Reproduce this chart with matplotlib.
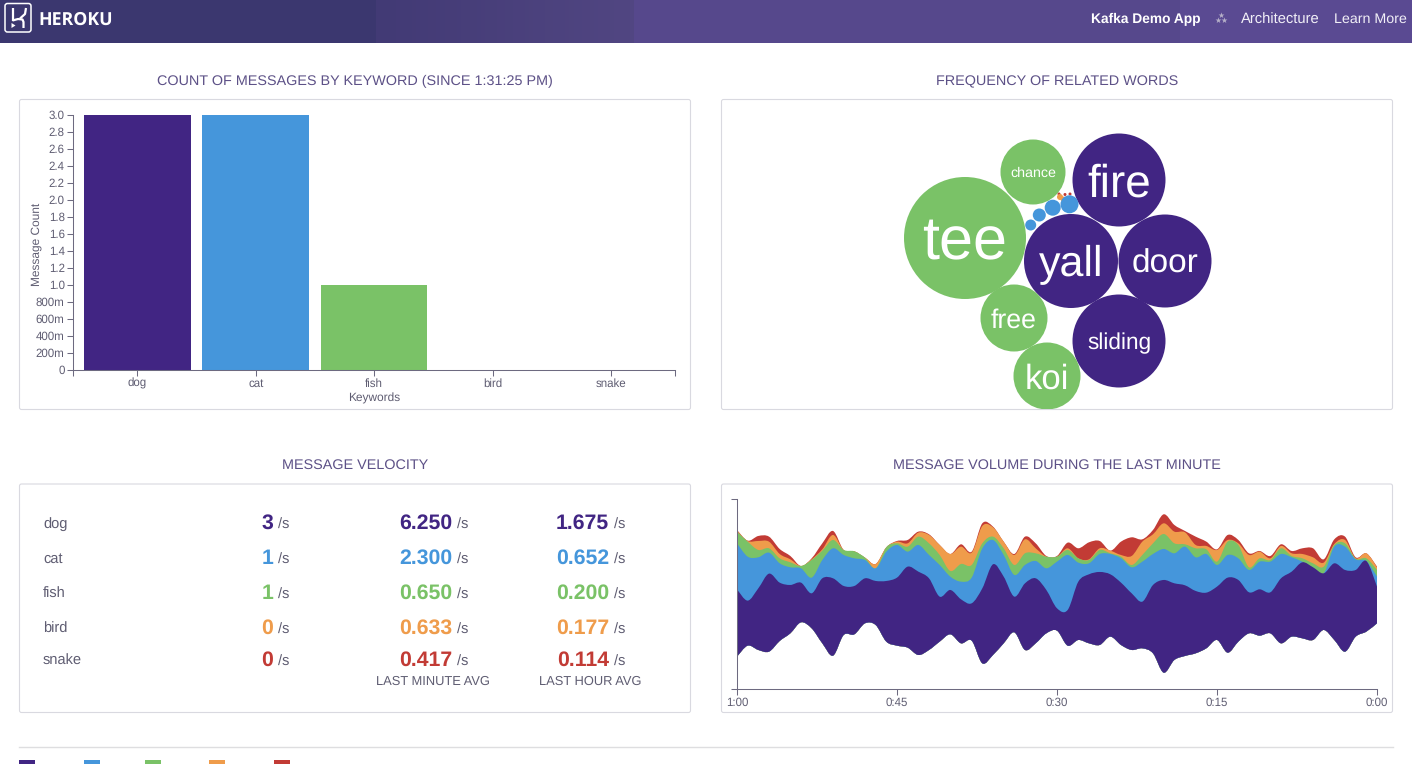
import numpy as np
import matplotlib
matplotlib.use('Agg')
import matplotlib.pyplot as plt
from matplotlib.patches import Circle, FancyBboxPatch, PathPatch, Rectangle
from matplotlib.path import Path

plt.rcParams['font.family'] = ['Liberation Sans', 'DejaVu Sans']
plt.rcParams['text.hinting'] = 'no_hinting'

# Colours per keyword
keywords = ['dog', 'cat', 'fish', 'bird', 'snake']
colors = ['#412583', '#4596db', '#7ac267', '#ef9c4b', '#c23b35']

# Bar chart
message_counts = [3, 3, 1, 0, 0]
bar_ticks = [0, 0.2, 0.4, 0.6, 0.8, 1.0, 1.2, 1.4, 1.6, 1.8, 2.0, 2.2, 2.4, 2.6, 2.8, 3.0]
bar_tick_labels = ['0', '200m', '400m', '600m', '800m', '1.0', '1.2', '1.4', '1.6', '1.8',
                   '2.0', '2.2', '2.4', '2.6', '2.8', '3.0']

# Bubble chart
bubble_words = ['tee', 'chance', 'fire', 'yall', 'door', 'free', 'sliding', 'koi']
bubble_radius = [61, 32.5, 46.5, 47, 46.5, 33.5, 46.5, 33.5]
bubble_group = [2, 2, 0, 0, 0, 2, 0, 2]
bubble_x = [965, 1033, 1119, 1071, 1165, 1014, 1119, 1047]
bubble_y = [238, 172, 180, 261, 261, 318, 341, 376]
bubble_font = [44, 10.3, 33, 31, 24, 19.2, 16.3, 25]
small_radius = [9, 8, 6.5, 5.5, 3, 2.5, 1.5, 1.5, 1.5]
small_group = [1, 1, 1, 1, 3, 3, 4, 4, 4]
small_x = [1069.5, 1052.7, 1039.3, 1030.7, 1060, 1063, 1059, 1065, 1070]
small_y = [204.3, 207.7, 215, 225, 197, 199, 194, 194.5, 194]

# Velocity table
current_rate = ['3', '1', '1', '0', '0']
minute_avg = ['6.250', '2.300', '0.650', '0.633', '0.417']
hour_avg = ['1.675', '0.652', '0.200', '0.177', '0.114']

# Streamgraph boundaries, one reading per second, y counted down from the top of the plot
seconds_ago = np.arange(60, -1, -1)
stream_bottom = [530, 497, 510, 515, 483, 460, 427, 445, 490, 527, 465, 463, 430, 435, 485, 497, 503, 525, 510, 485,
                 463, 490, 482, 550, 525, 490, 457, 510, 490, 460, 452, 497, 480, 490, 495, 470, 495, 510, 505, 520,
                 578, 540, 528, 520, 505, 480, 518, 485, 460, 467, 460, 490, 470, 475, 480, 450, 480, 515, 470, 455, 430]
dog_top = [328, 362, 325, 281, 308, 315, 308, 340, 295, 295, 318, 318, 295, 303, 303, 293, 260, 275, 295, 350,
           330, 358, 370, 325, 253, 290, 350, 310, 295, 330, 385, 390, 305, 283, 276, 283, 308, 340, 365, 315,
           300, 310, 316, 333, 338, 320, 293, 300, 337, 328, 337, 295, 275, 247, 262, 280, 250, 270, 270, 243, 320]
cat_top = [190, 230, 232, 218, 250, 262, 265, 293, 240, 205, 225, 235, 240, 265, 215, 195, 215, 195, 225, 255,
           290, 305, 293, 205, 180, 225, 285, 255, 243, 265, 245, 225, 248, 250, 222, 222, 235, 262, 245, 222,
           207, 220, 200, 232, 222, 255, 225, 235, 270, 245, 245, 222, 232, 245, 262, 280, 200, 200, 238, 243, 290]
fish_top = [155, 185, 210, 205, 235, 247, 258, 240, 212, 180, 210, 214, 233, 265, 202, 190, 200, 170, 190, 225,
            273, 252, 255, 190, 170, 205, 255, 220, 220, 230, 230, 210, 235, 240, 210, 220, 230, 255, 225, 190,
            162, 190, 193, 205, 208, 245, 185, 195, 262, 235, 240, 205, 228, 235, 250, 260, 195, 190, 236, 235, 270]
bird_top = [152, 183, 183, 185, 222, 238, 258, 238, 208, 165, 210, 214, 233, 252, 202, 185, 190, 158, 165, 195,
            222, 200, 218, 138, 142, 185, 225, 178, 205, 230, 230, 205, 235, 238, 205, 212, 225, 228, 185, 163,
            130, 155, 157, 195, 198, 210, 180, 190, 225, 215, 235, 198, 220, 222, 232, 248, 192, 180, 235, 220, 262]
snake_top = [150, 182, 168, 170, 207, 228, 258, 235, 190, 153, 210, 214, 233, 252, 202, 183, 180, 155, 163, 195,
             222, 193, 215, 130, 140, 185, 222, 170, 190, 228, 228, 188, 205, 187, 183, 212, 185, 172, 178, 150,
             103, 135, 153, 170, 185, 208, 165, 180, 220, 213, 228, 193, 213, 205, 205, 238, 178, 170, 232, 220, 260]
stream_ticks = [60, 45, 30, 15, 0]
stream_tick_labels = ['1:00', '0:45', '0:30', '0:15', '0:00']

W, H = 1412, 764
title_color = '#5d5187'
axis_color = '#6d6a80'
text_color = '#5f5d72'


def axes_px(left, top, right, bottom):
    return fig.add_axes([left / W, 1 - bottom / H, (right - left) / W, (bottom - top) / H], facecolor='none')


def smooth_segments(x, y):
    # Catmull-Rom control points, so the curve goes through every reading
    x = np.asarray(x, float)
    y = np.asarray(y, float)
    px = np.r_[x[0], x, x[-1]]
    py = np.r_[y[0], y, y[-1]]
    verts = []
    for i in range(1, len(x)):
        verts.append((x[i - 1] + (px[i + 1] - px[i - 1]) / 6, y[i - 1] + (py[i + 1] - py[i - 1]) / 6))
        verts.append((x[i] - (px[i + 2] - px[i]) / 6, y[i] - (py[i + 2] - py[i]) / 6))
        verts.append((x[i], y[i]))
    return verts


def band_path(x, upper, lower):
    top = smooth_segments(x, upper)
    bottom = smooth_segments(x[::-1], lower[::-1])
    verts = [(x[0], upper[0])] + top + [(x[-1], lower[-1])] + bottom + [(x[0], upper[0])]
    codes = [Path.MOVETO] + [Path.CURVE4] * len(top) + [Path.LINETO] + [Path.CURVE4] * len(bottom) + [Path.CLOSEPOLY]
    return Path(verts, codes)


fig = plt.figure(figsize=(W / 100, H / 100), dpi=100, facecolor='white')

# Page furniture in pixel coordinates
page = fig.add_axes([0, 0, 1, 1])
page.set_xlim(0, W)
page.set_ylim(H, 0)
page.axis('off')

page.add_patch(Rectangle((0, 0), 376, 43, color='#3b376f', lw=0))
page.imshow(np.linspace(0, 1, 64).reshape(1, -1), extent=(376, 634, 43, 0), aspect='auto',
            cmap=matplotlib.colors.LinearSegmentedColormap.from_list('hdr', ['#423a75', '#514682']))
page.add_patch(Rectangle((634, 0), 546, 43, color='#56488c', lw=0))
page.add_patch(Rectangle((1180, 0), W - 1180, 43, color='#5a4a92', lw=0))
page.set_xlim(0, W)
page.set_ylim(H, 0)

# Heroku logo
page.add_patch(FancyBboxPatch((5, 3.5), 26, 28.5, boxstyle='round,pad=0,rounding_size=2.5', fc='none', ec='white', lw=1.1))
page.plot([12.5, 12.5], [8, 20.5], color='white', lw=1.6, solid_capstyle='butt')
page.plot([12.5, 18, 22.5, 23.5, 23.5], [20.5, 19, 19.5, 22, 28], color='white', lw=1.6, solid_capstyle='butt')
page.plot([26, 25, 20], [8, 14, 18.5], color='white', lw=1.6, solid_capstyle='butt')
page.fill([11.5, 15.5, 11.5], [23, 25.5, 28], color='white', lw=0)
page.text(38, 20, 'HEROKU', color='white', fontsize=12.8, fontweight='bold', va='center', ha='left', family='Open Sans')

page.text(1145.5, 19.5, 'Kafka Demo App', color='white', fontsize=9.9, fontweight='bold', ha='center', va='center')
page.scatter([1220.5, 1217.5, 1223.5], [14.5, 20, 20], marker='*', s=20, color='#b5afc8', lw=0)
page.text(1280.5, 19.5, 'Architecture', color='#f1eff7', fontsize=10.6, ha='center', va='center')
page.text(1370.5, 19.5, 'Learn More', color='#f1eff7', fontsize=10.3, ha='center', va='center')

# Panel titles and frames
page.text(355, 81.5, 'COUNT OF MESSAGES BY KEYWORD (SINCE 1:31:25 PM)', color=title_color, fontsize=10.4, ha='center', va='center')
page.text(1057, 81.5, 'FREQUENCY OF RELATED WORDS', color=title_color, fontsize=10.4, ha='center', va='center')
page.text(355, 465.5, 'MESSAGE VELOCITY', color=title_color, fontsize=10.4, ha='center', va='center')
page.text(1057, 465.5, 'MESSAGE VOLUME DURING THE LAST MINUTE', color=title_color, fontsize=10.4, ha='center', va='center')
for left, top, bottom in [(19.5, 99.5, 409.5), (721.5, 99.5, 409.5), (19.5, 484, 712.5), (721.5, 484, 712.5)]:
    page.add_patch(FancyBboxPatch((left, top), 671, bottom - top, boxstyle='round,pad=0,rounding_size=2',
                                  fc='white', ec='#d9d9e0', lw=0.8))

# Velocity table
row_y = [523, 558, 593, 628, 660]
for i, name in enumerate(keywords):
    page.text(43, row_y[i] + 1, name, color=text_color, fontsize=10.5, ha='left', va='center')
    for end_x, value in [(273, current_rate[i]), (452, minute_avg[i]), (609, hour_avg[i])]:
        page.text(end_x, row_y[i] + 0.5, value, color=colors[i], fontsize=15.3, fontweight='bold', ha='right', va='center')
        page.text(end_x + 5, row_y[i] + 1.5, '/s', color=text_color, fontsize=10.5, ha='left', va='center')
page.text(433, 682, 'LAST MINUTE AVG', color=text_color, fontsize=9.3, ha='center', va='center')
page.text(590, 682, 'LAST HOUR AVG', color=text_color, fontsize=9.3, ha='center', va='center')

# Footer rule and the clipped legend swatches
page.plot([19, 1393], [746.5, 746.5], color='#dedee0', lw=1)
for swatch_x, color in zip([19, 84, 145, 209, 274], colors):
    page.add_patch(Rectangle((swatch_x, 760), 16, 10, color=color, lw=0))

# Bar chart
ax = axes_px(73, 115, 675, 369.5)
ax.bar(range(len(keywords)), message_counts, width=0.9, color=colors)
ax.set_xlim(-0.543, 4.541)
ax.set_ylim(0, 3)
ax.set_xticks(range(len(keywords)), keywords)
ax.set_xticks([-0.543, 4.541], minor=True)
ax.set_yticks(bar_ticks, bar_tick_labels)
ax.tick_params(axis='both', which='both', length=4, width=0.75, color=axis_color, labelcolor=text_color,
               labelsize=8.3, pad=2)
ax.set_xlabel('Keywords', fontsize=8.6, color=text_color, labelpad=3)
ax.set_ylabel('Message Count', fontsize=8.6, color=text_color)
ax.yaxis.set_label_coords(-31 / 602, 0.49)
for side in ['top', 'right']:
    ax.spines[side].set_visible(False)
for side in ['left', 'bottom']:
    ax.spines[side].set_color(axis_color)
    ax.spines[side].set_linewidth(0.75)

# Bubble chart
bx = axes_px(722, 100, 1392, 409)
bx.set_xlim(722, 1392)
bx.set_ylim(409, 100)
bx.axis('off')
for cx, cy, r, g, word, size in zip(bubble_x, bubble_y, bubble_radius, bubble_group, bubble_words, bubble_font):
    bx.add_patch(Circle((cx, cy), r, color=colors[g], lw=0))
    bx.text(cx, cy + 0.13 * size, word, color='white', fontsize=size, ha='center', va='center')
for cx, cy, r, g in zip(small_x[::-1], small_y[::-1], small_radius[::-1], small_group[::-1]):
    bx.add_patch(Circle((cx, cy), r, color=colors[g], lw=0))

# Streamgraph, painted back to front down to the common baseline
sx = axes_px(737, 499.3, 1377, 689.3)
sx.set_xlim(60, 0)
sx.set_ylim(628, 58)
x = seconds_ago.astype(float)
bottom = np.array(stream_bottom, float)
layers = [snake_top, bird_top, fish_top, cat_top, dog_top]
for upper, color in zip(layers, colors[::-1]):
    sx.add_patch(PathPatch(band_path(x, np.array(upper, float), bottom), fc=color, ec='none', lw=0))
sx.set_xticks(stream_ticks, stream_tick_labels)
sx.set_yticks([58, 628], ['', ''])
sx.tick_params(axis='both', length=4, width=0.75, color=axis_color, labelcolor=text_color, labelsize=8.3, pad=1.5)
for side in ['top', 'right']:
    sx.spines[side].set_visible(False)
for side in ['left', 'bottom']:
    sx.spines[side].set_color(axis_color)
    sx.spines[side].set_linewidth(0.75)

fig.savefig('out.png', dpi=100)
